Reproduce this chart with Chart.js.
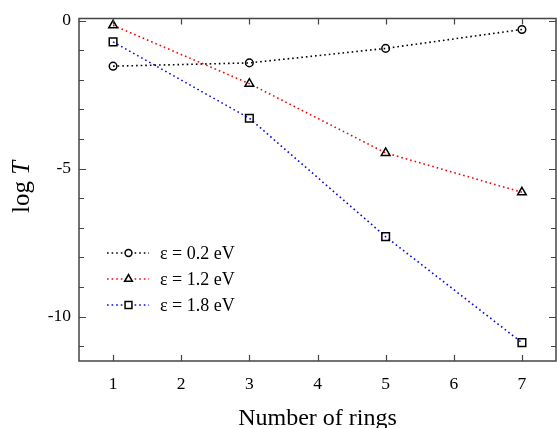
<!DOCTYPE html>
<html>
<head>
<meta charset="utf-8">
<script src="https://cdn.jsdelivr.net/npm/chart.js@4/dist/chart.umd.min.js"></script>
<style>
  html, body { margin: 0; padding: 0; background: #fff; }
  #wrap { width: 557px; height: 428px; }
</style>
</head>
<body>
<div id="wrap"><canvas id="myChart" width="557" height="428"></canvas></div>
<script>
const RINGS = [1, 3, 5, 7];
const LOG_T_02 = [-1.54, -1.43, -0.94, -0.30];
const LOG_T_12 = [-0.16, -2.13, -4.47, -5.80];
const LOG_T_18 = [-0.72, -3.30, -7.30, -10.88];
const SERIES_LABELS = ["ε = 0.2 eV", "ε = 1.2 eV", "ε = 1.8 eV"];
const X_TICKS = [1, 2, 3, 4, 5, 6, 7];
const Y_TICKS = [-11, -10, -9, -8, -7, -6, -5, -4, -3, -2, -1, 0];
const Y_LABELED = [-10, -5, 0];

const FONT = "'Liberation Serif', 'Times New Roman', serif";
const FRAME = "#444";
const RADII = { circle: 3.8, triangle: 5, rect: 5.4 };

function pts(vals) {
  return RINGS.map((x, i) => ({ x: x, y: vals[i] }));
}

function series(label, vals, color, style) {
  return {
    label: label,
    data: pts(vals),
    borderColor: color,
    borderWidth: 1.6,
    borderDash: [1.6, 3],
    pointStyle: style,
    pointRadius: RADII[style],
    pointBorderColor: "#000",
    pointBackgroundColor: "rgba(0,0,0,0)",
    pointBorderWidth: 1.5,
    fill: false,
    tension: 0
  };
}

const data = {
  datasets: [
    series(SERIES_LABELS[0], LOG_T_02, "#000", "circle"),
    series(SERIES_LABELS[1], LOG_T_12, "#f00", "triangle"),
    series(SERIES_LABELS[2], LOG_T_18, "#00f", "rect")
  ]
};

// frame, inward ticks, y title and the legend
const extras = {
  id: "extras",
  afterDraw(chart) {
    const ctx = chart.ctx;
    const a = chart.chartArea;
    const xs = chart.scales.x, ys = chart.scales.y;
    ctx.save();
    ctx.strokeStyle = FRAME;
    ctx.lineWidth = 1.5;
    ctx.strokeRect(a.left, a.top, a.right - a.left, a.bottom - a.top);
    ctx.lineWidth = 1.2;
    ctx.beginPath();
    X_TICKS.forEach(v => {
      const px = Math.round(xs.getPixelForValue(v)) + 0.5;
      ctx.moveTo(px, a.bottom); ctx.lineTo(px, a.bottom - 6);
      ctx.moveTo(px, a.top); ctx.lineTo(px, a.top + 6);
    });
    Y_TICKS.forEach(v => {
      const py = Math.round(ys.getPixelForValue(v)) + 0.5;
      const len = Y_LABELED.includes(v) ? 7 : 5;
      ctx.moveTo(a.left, py); ctx.lineTo(a.left + len, py);
      ctx.moveTo(a.right, py); ctx.lineTo(a.right - len, py);
    });
    ctx.stroke();

    // y title "log T"
    ctx.fillStyle = "#000";
    ctx.translate(22, 187);
    ctx.rotate(-Math.PI / 2);
    ctx.textBaseline = "middle";
    ctx.font = "25px " + FONT;
    const w1 = ctx.measureText("log ").width;
    ctx.font = "italic 25px " + FONT;
    const w2 = ctx.measureText("T").width;
    ctx.textAlign = "left";
    ctx.font = "25px " + FONT;
    ctx.fillText("log ", -(w1 + w2) / 2, 0);
    ctx.font = "italic 25px " + FONT;
    ctx.fillText("T", -(w1 + w2) / 2 + w1, 0);
    ctx.restore();

    // legend
    ctx.save();
    chart.data.datasets.forEach((ds, i) => {
      const y = 253 + i * 26;
      ctx.strokeStyle = ds.borderColor;
      ctx.lineWidth = ds.borderWidth;
      ctx.setLineDash(ds.borderDash);
      ctx.beginPath();
      ctx.moveTo(107, y); ctx.lineTo(149, y);
      ctx.stroke();
      ctx.setLineDash([]);
      ctx.strokeStyle = "#000";
      ctx.fillStyle = "#fff";
      ctx.lineWidth = 1.5;
      Chart.helpers.drawPoint(ctx, {
        pointStyle: ds.pointStyle,
        radius: ds.pointRadius * 0.9,
        rotation: 0,
        borderWidth: 1.5
      }, 128.5, y);
      ctx.fillStyle = "#000";
      ctx.font = "18px " + FONT;
      ctx.textAlign = "left";
      ctx.textBaseline = "middle";
      ctx.fillText(ds.label, 160, y + 1);
    });
    ctx.restore();
  }
};

const CONFIG = {
  type: "line",
  data: data,
  plugins: [extras],
  options: {
    responsive: false,
    animation: false,
    layout: { autoPadding: false, padding: { top: 17, right: 1, left: 0, bottom: 0 } },
    plugins: { legend: { display: false }, tooltip: { enabled: false } },
    scales: {
      x: {
        type: "linear",
        min: 0.5,
        max: 7.5,
        afterBuildTicks: s => { s.ticks = X_TICKS.map(v => ({ value: v })); },
        afterFit: s => { s.height = 67; },
        grid: { display: false, drawTicks: false },
        border: { display: false },
        ticks: { color: "#000", font: { family: FONT, size: 17.5 }, padding: 13, maxRotation: 0 },
        title: {
          display: true,
          text: "Number of rings",
          color: "#000",
          font: { family: FONT, size: 24 },
          padding: { top: 13, bottom: -5 }
        }
      },
      y: {
        type: "linear",
        min: -11.5,
        max: 0.07,
        afterBuildTicks: s => { s.ticks = Y_TICKS.map(v => ({ value: v })); },
        afterFit: s => { s.width = 79; },
        grid: { display: false, drawTicks: false },
        border: { display: false },
        ticks: {
          color: "#000",
          font: { family: FONT, size: 17.5 },
          padding: 8,
          autoSkip: false,
          callback: v => (Y_LABELED.includes(v) ? String(v) : "")
        }
      }
    }
  }
};

new Chart(document.querySelector("#myChart"), CONFIG);
</script>
</body>
</html>
